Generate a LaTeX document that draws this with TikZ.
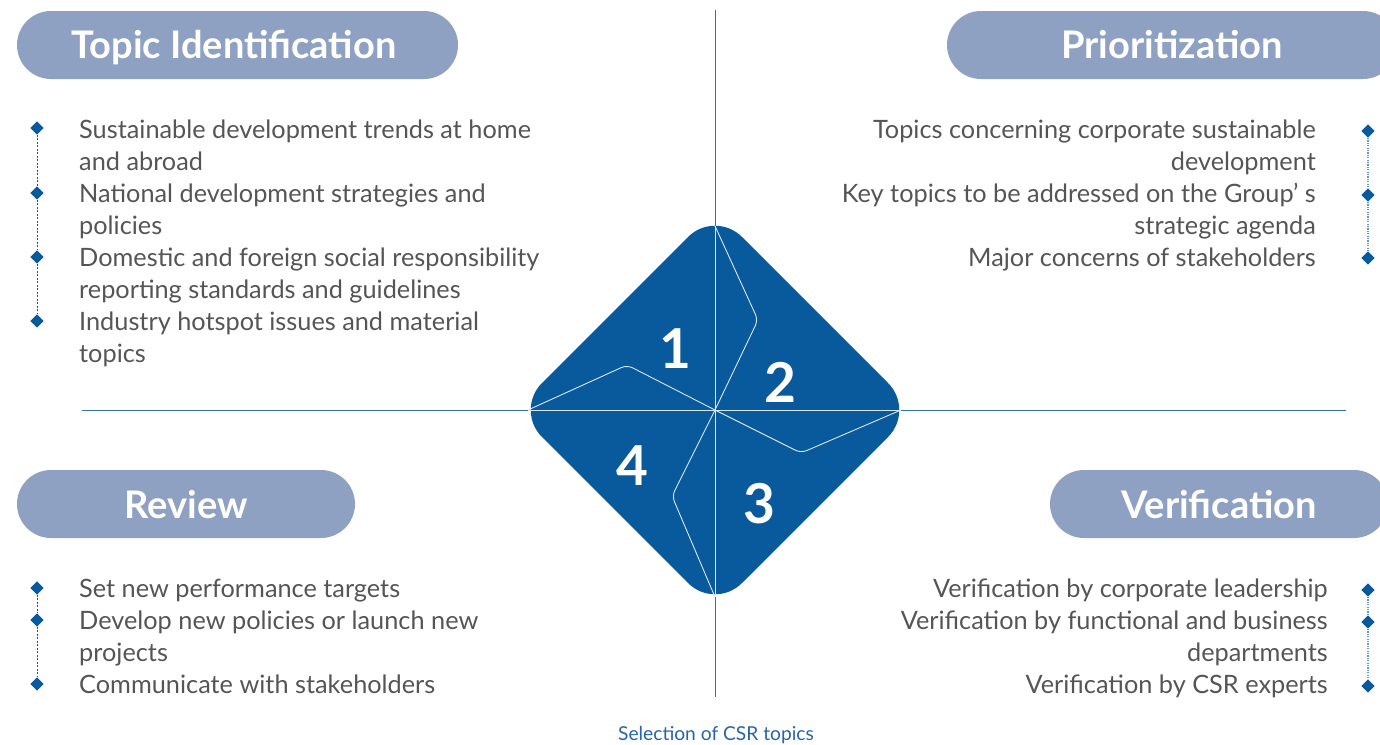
\documentclass[tikz,border=0pt]{standalone}
\usepackage{fontspec}
\setmainfont{Lato}
\usetikzlibrary{shapes.geometric}
\definecolor{dblue}{RGB}{9,90,156}
\definecolor{axisblue}{RGB}{55,112,172}
\definecolor{pillc}{RGB}{143,161,195}
\definecolor{txtgray}{RGB}{85,85,85}
\definecolor{dotblue}{RGB}{100,150,205}
\definecolor{capblue}{RGB}{40,100,168}
\tikzset{
  pill/.style={fill=pillc, rounded corners=34pt, minimum height=68pt, inner sep=0pt},
  pilltext/.style={anchor=base, text=white, font=\fontsize{38}{42}\selectfont\bfseries, inner sep=0pt},
  ltxt/.style={anchor=base west, text=txtgray, font=\fontsize{25.3}{30}\selectfont, inner sep=0pt},
  rtxt/.style={anchor=base east, text=txtgray, font=\fontsize{25.3}{30}\selectfont, inner sep=0pt},
  bul/.style={diamond, fill=dblue, inner sep=0pt, minimum size=13.5pt},
  num/.style={text=white, font=\fontsize{55}{55}\selectfont\bfseries, inner sep=0pt},
  wline/.style={draw=white!85!dblue, line width=0.9pt},
}
\begin{document}
\begin{tikzpicture}[x=1pt,y=-1pt]
\useasboundingbox (0,0) rectangle (1380,744);
% axes
\coordinate (vt) at (715,10);
\coordinate (vb) at (715,697);
\coordinate (hl) at (82,410);
\coordinate (hr) at (1346,410);
\draw[axisblue, line width=0.9pt] (vt) -- (vb);
\draw[axisblue, line width=0.9pt] (hl) -- (hr);
% diamond
\fill[dblue, rounded corners=38pt] (815,310) -- (915,410) -- (715,610) -- (515,410) -- (715,210) -- cycle;
\coordinate (c) at (715,410);
\coordinate (dt) at (715,226);
\coordinate (db) at (715,597);
\coordinate (dl) at (528,410);
\coordinate (dr) at (901,410);
\draw[wline] (dt) -- (db);
\draw[wline] (dl) -- (dr);
\draw[wline, rounded corners=6pt] (dt) -- (758,320) -- (c);
\draw[wline, rounded corners=6pt] (dl) -- (627,365) -- (c);
\draw[wline, rounded corners=6pt] (c) -- (801,453) -- (dr);
\draw[wline, rounded corners=6pt] (c) -- (672,496) -- (db);
\node[num] (n1) at (675,349) {1};
\node[num] (n2) at (780,382) {2};
\node[num] (n4) at (632,466) {4};
\node[num] (n3) at (759,504) {3};
% pills
\node[pill, minimum width=441pt] (p1) at (237.5,45) {};
\node[pilltext] (p1t) at (234,58) {Topic Identification};
\node[pill, minimum width=450pt] (p2) at (1172,45) {};
\node[pilltext] (p2t) at (1172,58) {Prioritization};
\node[pill, minimum width=338pt] (p3) at (186,504) {};
\node[pilltext] (p3t) at (186,518) {Review};
\node[pill, minimum width=338pt] (p4) at (1219,504) {};
\node[pilltext] (p4t) at (1219,518) {Verification};
% left list
\node[bul] (b1) at (37,128) {};
\node[bul] (b2) at (37,193) {};
\node[bul] (b3) at (37,257) {};
\node[bul] (b4) at (37,321) {};
\draw[dblue, line width=0.6pt, dash pattern=on 2pt off 1.5pt] (b1) -- (b2) -- (b3) -- (b4);
\node[ltxt] (l1) at (79,138) {Sustainable development trends at home};
\node[ltxt] (l2) at (79,170) {and abroad};
\node[ltxt] (l3) at (79,202) {National development strategies and};
\node[ltxt] (l4) at (79,234) {policies};
\node[ltxt] (l5) at (79,266) {Domestic and foreign social responsibility};
\node[ltxt] (l6) at (79,298) {reporting standards and guidelines};
\node[ltxt] (l7) at (79,330) {Industry hotspot issues and material};
\node[ltxt] (l8) at (79,362) {topics};
% right list
\node[bul] (r1) at (1368,131) {};
\node[bul] (r2) at (1368,195) {};
\node[bul] (r3) at (1368,258) {};
\draw[dotblue, line width=1.2pt, dash pattern=on 1.2pt off 1.2pt] (r1) -- (r2) -- (r3);
\node[rtxt] (t1) at (1316,138) {Topics concerning corporate sustainable};
\node[rtxt] (t2) at (1316,170) {development};
\node[rtxt] (t3) at (1316,202) {Key topics to be addressed on the Group’ s};
\node[rtxt] (t4) at (1316,234) {strategic agenda};
\node[rtxt] (t5) at (1316,266) {Major concerns of stakeholders};
% review list
\node[bul] (v1) at (37,588) {};
\node[bul] (v2) at (37,620) {};
\node[bul] (v3) at (37,684) {};
\draw[dblue, line width=0.6pt, dash pattern=on 2pt off 1.5pt] (v1) -- (v2) -- (v3);
\node[ltxt] (w1) at (79,597) {Set new performance targets};
\node[ltxt] (w2) at (79,629) {Develop new policies or launch new};
\node[ltxt] (w3) at (79,661) {projects};
\node[ltxt] (w4) at (79,693) {Communicate with stakeholders};
% verification list
\node[bul] (s1) at (1368,590) {};
\node[bul] (s2) at (1368,622) {};
\node[bul] (s3) at (1368,686) {};
\draw[dotblue, line width=1.2pt, dash pattern=on 1.2pt off 1.2pt] (s1) -- (s2) -- (s3);
\node[rtxt] (u1) at (1328,597) {Verification by corporate leadership};
\node[rtxt] (u2) at (1328,629) {Verification by functional and business};
\node[rtxt] (u3) at (1328,661) {departments};
\node[rtxt] (u4) at (1328,693) {Verification by CSR experts};
% caption
\node[text=capblue, font=\fontsize{19.2}{21}\selectfont, inner sep=0pt] (cap) at (716,735) {Selection of CSR topics};
\end{tikzpicture}
\end{document}
